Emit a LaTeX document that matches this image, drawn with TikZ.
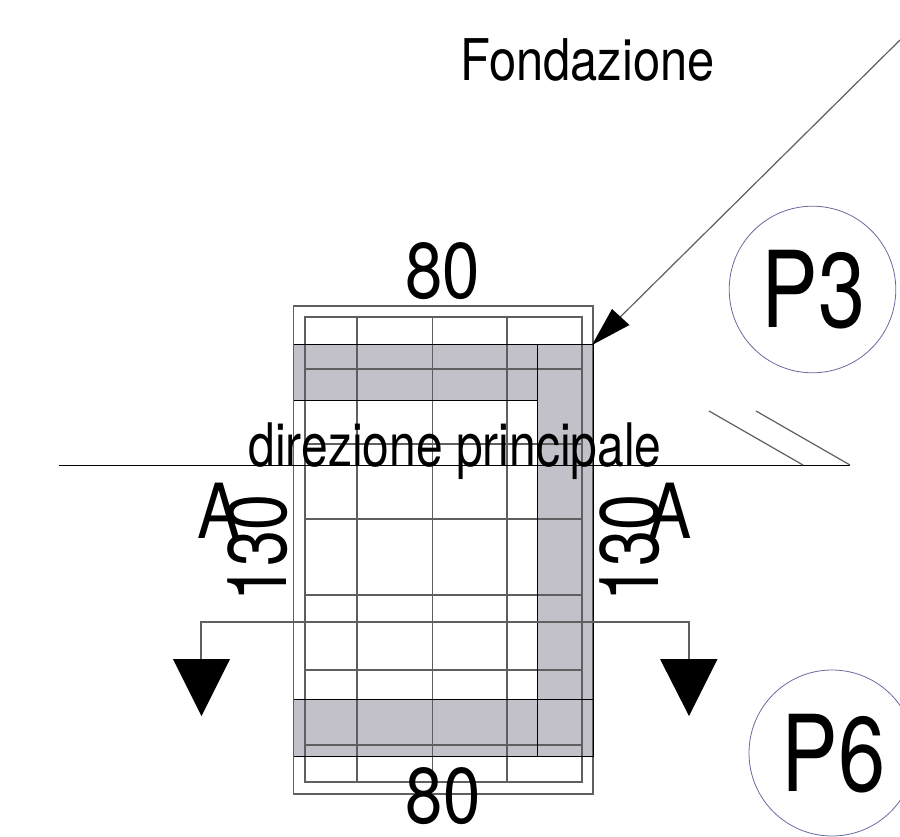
\documentclass[tikz,border=0pt]{standalone}
\usepackage{fontspec}
\setmainfont{TeX Gyre Heros}
\newfontfamily\cad[FakeStretch=0.85]{TeX Gyre Heros}
\newfontfamily\cadn[FakeStretch=0.80]{TeX Gyre Heros}
\newfontfamily\cadr[FakeStretch=0.78]{TeX Gyre Heros}
\definecolor{bandgray}{HTML}{C2C0C8}
\definecolor{gridgray}{HTML}{5F5F5F}
\definecolor{circ}{HTML}{6A6AA0}
\tikzset{
  cadtext/.style={inner sep=0pt,outer sep=0pt,text=black},
  big/.style={cadtext,font={\cad\fontsize{79}{79}\selectfont}},
  lettera/.style={cadtext,font={\cad\fontsize{76}{76}\selectfont}},
  rotnum/.style={cadtext,rotate=90,font={\cadr\fontsize{83}{83}\selectfont}},
  huge2/.style={cadtext,font={\cadn\fontsize{106}{106}\selectfont}},
  med/.style={cadtext,font={\cad\fontsize{57.5}{57.5}\selectfont}},
  mid/.style={cadtext,font={\cadn\fontsize{60}{60}\selectfont}},
  gridline/.style={draw=gridgray,line width=1.2pt},
  blackline/.style={draw=black,line width=0.9pt},
  band/.style={fill=bandgray,draw=none},
  tip/.style={fill=black,draw=none},
  bubble/.style={draw=circ,line width=0.8pt},
}
\begin{document}
\begin{tikzpicture}[x=1pt,y=-1pt]
\useasboundingbox (0,0) rectangle (900,837);
\clip (0,0) rectangle (900,837);
\fill[white] (0,0) rectangle (900,837);
% grey bands
\fill[band] (293.5,344) rectangle (593,400);
\fill[band] (537,344) rectangle (593,756);
\fill[band] (293.5,699) rectangle (593,756);
% inner grid
\draw[gridline] (305,317) rectangle (582,782);
\foreach \xx in {357,432.5,507} \draw[gridline] (\xx,317) -- (\xx,782);
\foreach \yy in {369,444,519,595,670,745} \draw[gridline] (305,\yy) -- (582,\yy);
% outer rectangle
\draw[gridline] (293.5,306) rectangle (593,794);
% band outlines
\draw[blackline] (293.5,344) -- (593,344) -- (593,756) -- (537,756) -- (537,400) -- (293.5,400);
\draw[blackline] (537,344) -- (537,400);
\draw[blackline] (293.5,699) -- (593,699);
\draw[blackline] (293.5,756) -- (593,756);
% section line
\coordinate (secL) at (59,465);
\coordinate (secR) at (850,465);
\draw[blackline] (secL) -- (secR);
\coordinate (h1a) at (709,411); \coordinate (h1b) at (803,465);
\coordinate (h2a) at (756,411); \coordinate (h2b) at (850,465);
\draw[gridline] (h1a) -- (h1b);
\draw[gridline] (h2a) -- (h2b);
% cut line and arrows
\coordinate (cutL) at (201,659);
\coordinate (cutLt) at (201,622);
\coordinate (cutRt) at (689,622);
\coordinate (cutR) at (689,659);
\draw[gridline] (cutL) -- (cutLt) -- (cutRt) -- (cutR);
\fill[tip] (173,659) -- (230,659) -- (201.5,716) -- cycle;
\fill[tip] (660,659) -- (717.5,659) -- (689,716) -- cycle;
% leader
\coordinate (leadA) at (900,40);
\coordinate (leadB) at (593,344);
\draw[gridline] (leadA) -- (leadB);
\fill[tip] (592,345) -- (612,309) -- (629.5,325) -- cycle;
% circles
\draw[bubble] (812.5,289.5) circle (83.3);
\draw[bubble] (832,753) circle (83);
% texts
\node[med] (fond) at (587.5,60) {Fondazione};
\node[big] (t80a) at (442.5,271) {80};
\node[big] (t80b) at (443,796) {80};
\node[huge2] (p3) at (813.5,290) {P3};
\node[huge2] (p6) at (833.5,753.5) {P6};
\node[mid,anchor=base] (dir) at (455,466) {direzione principale};
\node[lettera] (aL) at (219,510.5) {A};
\node[lettera] (aR) at (670,510.5) {A};
\node[rotnum] (n130L) at (257.5,548) {130};
\node[rotnum] (n130R) at (630,548) {130};
\end{tikzpicture}
\end{document}
